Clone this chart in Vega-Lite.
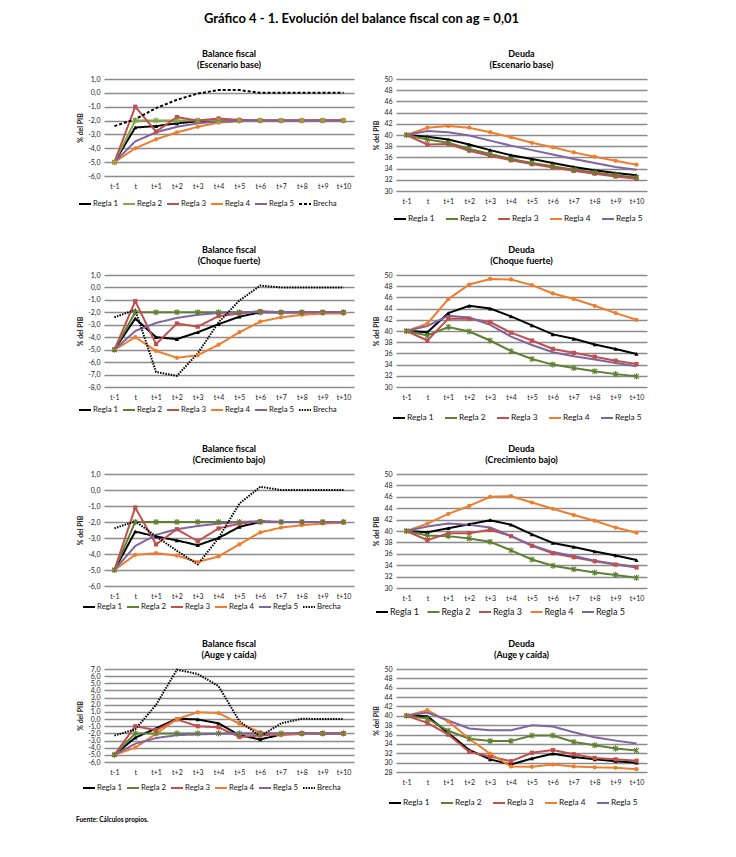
{
"$schema": "https://vega.github.io/schema/vega-lite/v6.json",
"autosize": {"type": "pad"},
"padding": {"left": 76, "top": 12, "right": 5, "bottom": 5},
"background": "white",
"title": {"text": "Gráfico 4 - 1. Evolución del balance fiscal con ag = 0,01", "fontSize": 13, "offset": 24, "anchor": "middle", "frame": "bounds"},
"config": {
 "font": "Lato",
 "view": {"stroke": null},
 "axis": {"labelFont": "Lato", "labelColor": "#222", "labelFontSize": 7, "ticks": false, "domain": false, "gridColor": "#8c8c8c", "gridWidth": 1.5, "titleFontSize": 7, "titleFontWeight": "bold", "titleColor": "#222", "titleFont": "Lato"},
 "axisX": {"grid": false, "labelAngle": 0, "labelPadding": 6, "title": null},
 "axisY": {"grid": true, "labelPadding": 4, "labelOverlap": false},
 "legend": {"orient": "none", "direction": "horizontal", "title": null, "padding": 0, "labelFontSize": 7.8, "labelColor": "#111", "labelOffset": 1, "symbolType": "stroke", "symbolSize": 144, "symbolStrokeWidth": 2.5, "columnPadding": 0, "labelLimit": 0, "labelFont": "Lato"},
 "title": {"fontSize": 9, "fontWeight": "bold", "lineHeight": 11.5, "offset": 5, "color": "#000", "anchor": "middle", "font": "Lato"}
},
"datasets": {
 "bfBase": [
  {"p": "t-1", "Regla 1": -5, "Regla 2": -5, "Regla 3": -5, "Regla 4": -5, "Regla 5": -5, "Brecha": -2.4},
  {"p": "t", "Regla 1": -2.5, "Regla 2": -2.0, "Regla 3": -1.0, "Regla 4": -4.0, "Regla 5": -3.5, "Brecha": -1.9},
  {"p": "t+1", "Regla 1": -2.4, "Regla 2": -2.0, "Regla 3": -2.8, "Regla 4": -3.35, "Regla 5": -2.85, "Brecha": -1.1},
  {"p": "t+2", "Regla 1": -2.2, "Regla 2": -2.0, "Regla 3": -1.75, "Regla 4": -2.85, "Regla 5": -2.45, "Brecha": -0.5},
  {"p": "t+3", "Regla 1": -2.05, "Regla 2": -2.0, "Regla 3": -2.0, "Regla 4": -2.45, "Regla 5": -2.2, "Brecha": -0.05},
  {"p": "t+4", "Regla 1": -2.0, "Regla 2": -2.0, "Regla 3": -1.85, "Regla 4": -2.15, "Regla 5": -2.07, "Brecha": 0.2},
  {"p": "t+5", "Regla 1": -2.0, "Regla 2": -2.0, "Regla 3": -1.95, "Regla 4": -2.05, "Regla 5": -2.02, "Brecha": 0.2},
  {"p": "t+6", "Regla 1": -2.0, "Regla 2": -2.0, "Regla 3": -2.0, "Regla 4": -2.0, "Regla 5": -2.0, "Brecha": 0.0},
  {"p": "t+7", "Regla 1": -2.0, "Regla 2": -2.0, "Regla 3": -2.0, "Regla 4": -2.0, "Regla 5": -2.0, "Brecha": 0.0},
  {"p": "t+8", "Regla 1": -2.0, "Regla 2": -2.0, "Regla 3": -2.0, "Regla 4": -2.0, "Regla 5": -2.0, "Brecha": 0.0},
  {"p": "t+9", "Regla 1": -2.0, "Regla 2": -2.0, "Regla 3": -2.0, "Regla 4": -2.0, "Regla 5": -2.0, "Brecha": 0.0},
  {"p": "t+10", "Regla 1": -2.0, "Regla 2": -2.0, "Regla 3": -2.0, "Regla 4": -2.0, "Regla 5": -2.0, "Brecha": 0.0}
 ],
 "dBase": [
  {"p": "t-1", "Regla 1": 40, "Regla 2": 40, "Regla 3": 40, "Regla 4": 40, "Regla 5": 40},
  {"p": "t", "Regla 1": 39.7, "Regla 2": 39.2, "Regla 3": 38.3, "Regla 4": 41.3, "Regla 5": 40.7},
  {"p": "t+1", "Regla 1": 39.2, "Regla 2": 38.6, "Regla 3": 38.4, "Regla 4": 41.6, "Regla 5": 40.5},
  {"p": "t+2", "Regla 1": 38.3, "Regla 2": 37.5, "Regla 3": 37.2, "Regla 4": 41.3, "Regla 5": 39.9},
  {"p": "t+3", "Regla 1": 37.3, "Regla 2": 36.6, "Regla 3": 36.3, "Regla 4": 40.5, "Regla 5": 39.0},
  {"p": "t+4", "Regla 1": 36.4, "Regla 2": 35.7, "Regla 3": 35.5, "Regla 4": 39.6, "Regla 5": 38.1},
  {"p": "t+5", "Regla 1": 35.7, "Regla 2": 35.0, "Regla 3": 34.8, "Regla 4": 38.6, "Regla 5": 37.3},
  {"p": "t+6", "Regla 1": 35.0, "Regla 2": 34.4, "Regla 3": 34.2, "Regla 4": 37.8, "Regla 5": 36.5},
  {"p": "t+7", "Regla 1": 34.3, "Regla 2": 33.8, "Regla 3": 33.6, "Regla 4": 36.9, "Regla 5": 35.7},
  {"p": "t+8", "Regla 1": 33.7, "Regla 2": 33.3, "Regla 3": 33.1, "Regla 4": 36.1, "Regla 5": 35.0},
  {"p": "t+9", "Regla 1": 33.2, "Regla 2": 32.8, "Regla 3": 32.6, "Regla 4": 35.4, "Regla 5": 34.3},
  {"p": "t+10", "Regla 1": 32.8, "Regla 2": 32.4, "Regla 3": 32.2, "Regla 4": 34.7, "Regla 5": 33.8}
 ],
 "bfChoque": [
  {"p": "t-1", "Regla 1": -5, "Regla 2": -5, "Regla 3": -5, "Regla 4": -5, "Regla 5": -5, "Brecha": -2.4},
  {"p": "t", "Regla 1": -2.5, "Regla 2": -2.0, "Regla 3": -1.1, "Regla 4": -4.0, "Regla 5": -3.5, "Brecha": -1.8},
  {"p": "t+1", "Regla 1": -4.0, "Regla 2": -2.0, "Regla 3": -4.55, "Regla 4": -5.1, "Regla 5": -2.85, "Brecha": -6.8},
  {"p": "t+2", "Regla 1": -4.15, "Regla 2": -2.0, "Regla 3": -2.9, "Regla 4": -5.65, "Regla 5": -2.45, "Brecha": -7.1},
  {"p": "t+3", "Regla 1": -3.6, "Regla 2": -2.0, "Regla 3": -3.15, "Regla 4": -5.45, "Regla 5": -2.2, "Brecha": -5.3},
  {"p": "t+4", "Regla 1": -2.95, "Regla 2": -2.0, "Regla 3": -2.3, "Regla 4": -4.6, "Regla 5": -2.05, "Brecha": -2.8},
  {"p": "t+5", "Regla 1": -2.35, "Regla 2": -2.0, "Regla 3": -2.1, "Regla 4": -3.6, "Regla 5": -2.0, "Brecha": -1.05},
  {"p": "t+6", "Regla 1": -2.0, "Regla 2": -2.0, "Regla 3": -1.9, "Regla 4": -2.75, "Regla 5": -1.95, "Brecha": 0.15},
  {"p": "t+7", "Regla 1": -2.0, "Regla 2": -2.0, "Regla 3": -2.0, "Regla 4": -2.4, "Regla 5": -2.0, "Brecha": 0.0},
  {"p": "t+8", "Regla 1": -2.0, "Regla 2": -2.0, "Regla 3": -2.0, "Regla 4": -2.2, "Regla 5": -2.0, "Brecha": 0.0},
  {"p": "t+9", "Regla 1": -2.0, "Regla 2": -2.0, "Regla 3": -2.0, "Regla 4": -2.1, "Regla 5": -2.0, "Brecha": 0.0},
  {"p": "t+10", "Regla 1": -2.0, "Regla 2": -2.0, "Regla 3": -2.0, "Regla 4": -2.1, "Regla 5": -2.0, "Brecha": 0.0}
 ],
 "dChoque": [
  {"p": "t-1", "Regla 1": 40, "Regla 2": 40, "Regla 3": 40, "Regla 4": 40, "Regla 5": 40},
  {"p": "t", "Regla 1": 39.8, "Regla 2": 39.2, "Regla 3": 38.3, "Regla 4": 41.3, "Regla 5": 40.9},
  {"p": "t+1", "Regla 1": 43.2, "Regla 2": 40.7, "Regla 3": 42.2, "Regla 4": 45.7, "Regla 5": 42.7},
  {"p": "t+2", "Regla 1": 44.5, "Regla 2": 39.9, "Regla 3": 42.2, "Regla 4": 48.3, "Regla 5": 42.4},
  {"p": "t+3", "Regla 1": 44.0, "Regla 2": 38.3, "Regla 3": 41.6, "Regla 4": 49.3, "Regla 5": 41.1},
  {"p": "t+4", "Regla 1": 42.6, "Regla 2": 36.4, "Regla 3": 39.7, "Regla 4": 49.2, "Regla 5": 39.0},
  {"p": "t+5", "Regla 1": 41.0, "Regla 2": 35.0, "Regla 3": 38.3, "Regla 4": 48.2, "Regla 5": 37.5},
  {"p": "t+6", "Regla 1": 39.4, "Regla 2": 34.0, "Regla 3": 36.8, "Regla 4": 46.7, "Regla 5": 36.2},
  {"p": "t+7", "Regla 1": 38.6, "Regla 2": 33.4, "Regla 3": 36.1, "Regla 4": 45.7, "Regla 5": 35.5},
  {"p": "t+8", "Regla 1": 37.6, "Regla 2": 32.8, "Regla 3": 35.4, "Regla 4": 44.5, "Regla 5": 34.9},
  {"p": "t+9", "Regla 1": 36.8, "Regla 2": 32.3, "Regla 3": 34.7, "Regla 4": 43.2, "Regla 5": 34.3},
  {"p": "t+10", "Regla 1": 35.9, "Regla 2": 31.9, "Regla 3": 34.1, "Regla 4": 42.0, "Regla 5": 33.7}
 ],
 "bfBajo": [
  {"p": "t-1", "Regla 1": -5, "Regla 2": -5, "Regla 3": -5, "Regla 4": -5, "Regla 5": -5, "Brecha": -2.4},
  {"p": "t", "Regla 1": -2.6, "Regla 2": -2.0, "Regla 3": -1.1, "Regla 4": -4.05, "Regla 5": -3.5, "Brecha": -1.95},
  {"p": "t+1", "Regla 1": -2.9, "Regla 2": -2.0, "Regla 3": -3.4, "Regla 4": -3.95, "Regla 5": -2.8, "Brecha": -2.9},
  {"p": "t+2", "Regla 1": -3.15, "Regla 2": -2.0, "Regla 3": -2.45, "Regla 4": -4.1, "Regla 5": -2.45, "Brecha": -3.8},
  {"p": "t+3", "Regla 1": -3.45, "Regla 2": -2.0, "Regla 3": -3.2, "Regla 4": -4.5, "Regla 5": -2.25, "Brecha": -4.65},
  {"p": "t+4", "Regla 1": -3.0, "Regla 2": -2.0, "Regla 3": -2.4, "Regla 4": -4.15, "Regla 5": -2.1, "Brecha": -3.0},
  {"p": "t+5", "Regla 1": -2.3, "Regla 2": -2.0, "Regla 3": -2.1, "Regla 4": -3.4, "Regla 5": -2.0, "Brecha": -0.85},
  {"p": "t+6", "Regla 1": -2.0, "Regla 2": -2.0, "Regla 3": -1.95, "Regla 4": -2.65, "Regla 5": -1.95, "Brecha": 0.2},
  {"p": "t+7", "Regla 1": -2.0, "Regla 2": -2.0, "Regla 3": -2.0, "Regla 4": -2.35, "Regla 5": -2.0, "Brecha": 0.0},
  {"p": "t+8", "Regla 1": -2.0, "Regla 2": -2.0, "Regla 3": -2.0, "Regla 4": -2.2, "Regla 5": -2.0, "Brecha": 0.0},
  {"p": "t+9", "Regla 1": -2.0, "Regla 2": -2.0, "Regla 3": -2.0, "Regla 4": -2.1, "Regla 5": -2.0, "Brecha": 0.0},
  {"p": "t+10", "Regla 1": -2.0, "Regla 2": -2.0, "Regla 3": -2.0, "Regla 4": -2.05, "Regla 5": -2.0, "Brecha": 0.0}
 ],
 "dBajo": [
  {"p": "t-1", "Regla 1": 40, "Regla 2": 40, "Regla 3": 40, "Regla 4": 40, "Regla 5": 40},
  {"p": "t", "Regla 1": 39.8, "Regla 2": 39.2, "Regla 3": 38.4, "Regla 4": 41.3, "Regla 5": 40.8},
  {"p": "t+1", "Regla 1": 40.5, "Regla 2": 39.1, "Regla 3": 39.6, "Regla 4": 43.0, "Regla 5": 41.3},
  {"p": "t+2", "Regla 1": 41.2, "Regla 2": 38.7, "Regla 3": 39.6, "Regla 4": 44.4, "Regla 5": 41.1},
  {"p": "t+3", "Regla 1": 41.9, "Regla 2": 38.1, "Regla 3": 40.2, "Regla 4": 46.0, "Regla 5": 40.6},
  {"p": "t+4", "Regla 1": 41.1, "Regla 2": 36.6, "Regla 3": 39.1, "Regla 4": 46.1, "Regla 5": 39.1},
  {"p": "t+5", "Regla 1": 39.4, "Regla 2": 35.0, "Regla 3": 37.4, "Regla 4": 45.0, "Regla 5": 37.5},
  {"p": "t+6", "Regla 1": 37.9, "Regla 2": 33.9, "Regla 3": 36.1, "Regla 4": 43.9, "Regla 5": 36.3},
  {"p": "t+7", "Regla 1": 37.2, "Regla 2": 33.3, "Regla 3": 35.4, "Regla 4": 42.8, "Regla 5": 35.6},
  {"p": "t+8", "Regla 1": 36.4, "Regla 2": 32.7, "Regla 3": 34.7, "Regla 4": 41.8, "Regla 5": 34.8},
  {"p": "t+9", "Regla 1": 35.7, "Regla 2": 32.3, "Regla 3": 34.1, "Regla 4": 40.6, "Regla 5": 34.2},
  {"p": "t+10", "Regla 1": 34.9, "Regla 2": 31.8, "Regla 3": 33.6, "Regla 4": 39.7, "Regla 5": 33.7}
 ],
 "bfAuge": [
  {"p": "t-1", "Regla 1": -5, "Regla 2": -5, "Regla 3": -5, "Regla 4": -5, "Regla 5": -5, "Brecha": -2.3},
  {"p": "t", "Regla 1": -2.6, "Regla 2": -2.0, "Regla 3": -1.0, "Regla 4": -4.0, "Regla 5": -3.45, "Brecha": -1.45},
  {"p": "t+1", "Regla 1": -1.3, "Regla 2": -2.0, "Regla 3": -1.55, "Regla 4": -2.05, "Regla 5": -2.65, "Brecha": 2.0},
  {"p": "t+2", "Regla 1": 0.05, "Regla 2": -2.0, "Regla 3": -0.05, "Regla 4": 0.0, "Regla 5": -2.25, "Brecha": 6.9},
  {"p": "t+3", "Regla 1": -0.05, "Regla 2": -2.0, "Regla 3": -1.0, "Regla 4": 0.95, "Regla 5": -2.15, "Brecha": 6.3},
  {"p": "t+4", "Regla 1": -0.6, "Regla 2": -2.0, "Regla 3": -1.15, "Regla 4": 0.85, "Regla 5": -2.05, "Brecha": 4.6},
  {"p": "t+5", "Regla 1": -2.25, "Regla 2": -2.0, "Regla 3": -2.5, "Regla 4": -0.65, "Regla 5": -2.0, "Brecha": -0.3},
  {"p": "t+6", "Regla 1": -2.85, "Regla 2": -2.0, "Regla 3": -2.3, "Regla 4": -1.85, "Regla 5": -2.0, "Brecha": -2.4},
  {"p": "t+7", "Regla 1": -2.15, "Regla 2": -2.0, "Regla 3": -2.1, "Regla 4": -2.25, "Regla 5": -2.0, "Brecha": -0.6},
  {"p": "t+8", "Regla 1": -2.0, "Regla 2": -2.0, "Regla 3": -2.0, "Regla 4": -2.1, "Regla 5": -2.0, "Brecha": 0.05},
  {"p": "t+9", "Regla 1": -2.0, "Regla 2": -2.0, "Regla 3": -2.0, "Regla 4": -2.0, "Regla 5": -2.0, "Brecha": 0.0},
  {"p": "t+10", "Regla 1": -2.0, "Regla 2": -2.0, "Regla 3": -2.0, "Regla 4": -2.0, "Regla 5": -2.0, "Brecha": 0.0}
 ],
 "dAuge": [
  {"p": "t-1", "Regla 1": 40, "Regla 2": 40, "Regla 3": 40, "Regla 4": 40, "Regla 5": 40},
  {"p": "t", "Regla 1": 39.9, "Regla 2": 39.4, "Regla 3": 38.5, "Regla 4": 41.2, "Regla 5": 40.7},
  {"p": "t+1", "Regla 1": 36.3, "Regla 2": 36.8, "Regla 3": 36.0, "Regla 4": 38.8, "Regla 5": 39.0},
  {"p": "t+2", "Regla 1": 32.7, "Regla 2": 35.1, "Regla 3": 32.3, "Regla 4": 35.1, "Regla 5": 37.3},
  {"p": "t+3", "Regla 1": 30.7, "Regla 2": 34.6, "Regla 3": 31.3, "Regla 4": 31.9, "Regla 5": 36.9},
  {"p": "t+4", "Regla 1": 29.6, "Regla 2": 34.6, "Regla 3": 30.3, "Regla 4": 29.2, "Regla 5": 36.9},
  {"p": "t+5", "Regla 1": 30.9, "Regla 2": 35.8, "Regla 3": 32.1, "Regla 4": 29.1, "Regla 5": 38.0},
  {"p": "t+6", "Regla 1": 31.9, "Regla 2": 35.8, "Regla 3": 32.7, "Regla 4": 29.6, "Regla 5": 37.7},
  {"p": "t+7", "Regla 1": 31.2, "Regla 2": 34.4, "Regla 3": 31.8, "Regla 4": 29.2, "Regla 5": 36.5},
  {"p": "t+8", "Regla 1": 30.7, "Regla 2": 33.7, "Regla 3": 31.0, "Regla 4": 29.0, "Regla 5": 35.4},
  {"p": "t+9", "Regla 1": 30.3, "Regla 2": 33.0, "Regla 3": 30.7, "Regla 4": 28.9, "Regla 5": 34.7},
  {"p": "t+10", "Regla 1": 30.0, "Regla 2": 32.6, "Regla 3": 30.4, "Regla 4": 28.6, "Regla 5": 34.1}
 ]
},
"spacing": 22,
"resolve": {"scale": {"color": "independent", "strokeDash": "independent", "strokeWidth": "independent", "shape": "independent"}},
"vconcat": [
 {
  "spacing": 18,
  "resolve": {"scale": {"color": "independent", "strokeDash": "independent", "strokeWidth": "independent", "shape": "independent"}},
  "hconcat": [
   {
    "width": 250, "height": 97,
    "title": {"text": ["Balance fiscal", "(Escenario base)"]},
    "data": {"name": "bfBase"},
    "transform": [{"fold": ["Regla 1", "Regla 2", "Regla 3", "Regla 4", "Regla 5", "Brecha"], "as": ["serie", "valor"]}],
    "encoding": {
     "x": {"field": "p", "type": "ordinal", "sort": ["t-1", "t", "t+1", "t+2", "t+3", "t+4", "t+5", "t+6", "t+7", "t+8", "t+9", "t+10"], "scale": {"type": "point", "padding": 0.5}, "axis": {"title": null}},
     "y": {"field": "valor", "type": "quantitative", "scale": {"domain": [-6, 1], "nice": false, "zero": false}, "axis": {"title": "% del PIB", "values": [-6, -5, -4, -3, -2, -1, 0, 1], "labelExpr": "replace(replace(format(datum.value, '.1f'), '.', ','), '−', '-')", "minExtent": 18, "maxExtent": 18, "titlePadding": 3}}
    },
    "layer": [
     {"mark": {"type": "line"},
      "encoding": {
       "color": {"field": "serie", "type": "nominal", "scale": {"domain": ["Regla 1", "Regla 2", "Regla 3", "Regla 4", "Regla 5", "Brecha"], "range": ["#000000", "#86A845", "#C0504D", "#EF7D2C", "#8064A2", "#000000"]}, "legend": {"legendX": -26, "legendY": 118}},
       "strokeDash": {"field": "serie", "type": "nominal", "scale": {"domain": ["Regla 1", "Regla 2", "Regla 3", "Regla 4", "Regla 5", "Brecha"], "range": [[1, 0], [1, 0], [1, 0], [1, 0], [1, 0], [3, 2]]}, "legend": {"legendX": -26, "legendY": 118}},
       "strokeWidth": {"field": "serie", "type": "ordinal", "scale": {"domain": ["Regla 1", "Regla 2", "Regla 3", "Regla 4", "Regla 5", "Brecha"], "range": [2, 2, 2, 2, 2.6, 2]}, "legend": null}
      }},
     {"transform": [{"filter": {"field": "serie", "oneOf": ["Regla 1", "Regla 3", "Regla 4"]}}],
      "mark": {"type": "point", "filled": true, "opacity": 1, "size": 18},
      "encoding": {"color": {"field": "serie", "type": "nominal", "legend": null}, "shape": {"field": "serie", "type": "nominal", "scale": {"domain": ["Regla 1", "Regla 3", "Regla 4"], "range": ["triangle-up", "square", "circle"]}, "legend": null}}},
     {"transform": [{"filter": {"field": "serie", "equal": "Regla 2"}}],
      "mark": {"type": "point", "shape": "M-1,-1L1,1M1,-1L-1,1M0,-1.3L0,1.3", "filled": false, "opacity": 1, "size": 22, "strokeWidth": 1.1},
      "encoding": {"color": {"field": "serie", "type": "nominal", "legend": null}}}
    ]
   },
   {
    "width": 251, "height": 112,
    "title": {"text": ["Deuda", "(Escenario base)"]},
    "data": {"name": "dBase"},
    "transform": [{"fold": ["Regla 1", "Regla 2", "Regla 3", "Regla 4", "Regla 5"], "as": ["serie", "valor"]}],
    "encoding": {
     "x": {"field": "p", "type": "ordinal", "sort": ["t-1", "t", "t+1", "t+2", "t+3", "t+4", "t+5", "t+6", "t+7", "t+8", "t+9", "t+10"], "scale": {"type": "point", "padding": 0.5}, "axis": {"title": null}},
     "y": {"field": "valor", "type": "quantitative", "scale": {"domain": [30, 50], "nice": false, "zero": false}, "axis": {"title": "% del PIB", "values": [30, 32, 34, 36, 38, 40, 42, 44, 46, 48, 50], "minExtent": 12, "maxExtent": 12, "titlePadding": 5}}
    },
    "layer": [
     {"mark": {"type": "line"},
      "encoding": {
       "color": {"field": "serie", "type": "nominal", "scale": {"domain": ["Regla 1", "Regla 2", "Regla 3", "Regla 4", "Regla 5"], "range": ["#000000", "#5E8030", "#C0504D", "#EF7D2C", "#8064A2"]}, "legend": {"legendX": -3, "legendY": 133, "labelFontSize": 8.3, "columnPadding": 7}},
       "strokeWidth": {"field": "serie", "type": "ordinal", "scale": {"domain": ["Regla 1", "Regla 2", "Regla 3", "Regla 4", "Regla 5"], "range": [2, 2, 2, 2, 2.6]}, "legend": null}
      }},
     {"transform": [{"filter": {"field": "serie", "oneOf": ["Regla 1", "Regla 3", "Regla 4"]}}],
      "mark": {"type": "point", "filled": true, "opacity": 1, "size": 18},
      "encoding": {"color": {"field": "serie", "type": "nominal", "legend": null}, "shape": {"field": "serie", "type": "nominal", "scale": {"domain": ["Regla 1", "Regla 3", "Regla 4"], "range": ["triangle-up", "square", "circle"]}, "legend": null}}},
     {"transform": [{"filter": {"field": "serie", "equal": "Regla 2"}}],
      "mark": {"type": "point", "shape": "M-1,-1L1,1M1,-1L-1,1M0,-1.3L0,1.3", "filled": false, "opacity": 1, "size": 22, "strokeWidth": 1.1},
      "encoding": {"color": {"field": "serie", "type": "nominal", "legend": null}}}
    ]
   }
  ]
 },
 {
  "spacing": 18,
  "resolve": {"scale": {"color": "independent", "strokeDash": "independent", "strokeWidth": "independent", "shape": "independent"}},
  "hconcat": [
   {
    "width": 250, "height": 112,
    "title": {"text": ["Balance fiscal", "(Choque fuerte)"]},
    "data": {"name": "bfChoque"},
    "transform": [{"fold": ["Regla 1", "Regla 2", "Regla 3", "Regla 4", "Regla 5", "Brecha"], "as": ["serie", "valor"]}],
    "encoding": {
     "x": {"field": "p", "type": "ordinal", "sort": ["t-1", "t", "t+1", "t+2", "t+3", "t+4", "t+5", "t+6", "t+7", "t+8", "t+9", "t+10"], "scale": {"type": "point", "padding": 0.5}, "axis": {"title": null}},
     "y": {"field": "valor", "type": "quantitative", "scale": {"domain": [-8, 1], "nice": false, "zero": false}, "axis": {"title": "% del PIB", "values": [-8, -7, -6, -5, -4, -3, -2, -1, 0, 1], "labelExpr": "replace(replace(format(datum.value, '.1f'), '.', ','), '−', '-')", "minExtent": 18, "maxExtent": 18, "titlePadding": 3}}
    },
    "layer": [
     {"mark": {"type": "line"},
      "encoding": {
       "color": {"field": "serie", "type": "nominal", "scale": {"domain": ["Regla 1", "Regla 2", "Regla 3", "Regla 4", "Regla 5", "Brecha"], "range": ["#000000", "#5E8030", "#C0504D", "#EF7D2C", "#8064A2", "#000000"]}, "legend": {"legendX": -26, "legendY": 128}},
       "strokeDash": {"field": "serie", "type": "nominal", "scale": {"domain": ["Regla 1", "Regla 2", "Regla 3", "Regla 4", "Regla 5", "Brecha"], "range": [[1, 0], [1, 0], [1, 0], [1, 0], [1, 0], [1.5, 1.2]]}, "legend": {"legendX": -26, "legendY": 128}},
       "strokeWidth": {"field": "serie", "type": "ordinal", "scale": {"domain": ["Regla 1", "Regla 2", "Regla 3", "Regla 4", "Regla 5", "Brecha"], "range": [2, 2, 2, 2, 2.6, 1.5]}, "legend": null}
      }},
     {"transform": [{"filter": {"field": "serie", "oneOf": ["Regla 1", "Regla 3", "Regla 4"]}}],
      "mark": {"type": "point", "filled": true, "opacity": 1, "size": 18},
      "encoding": {"color": {"field": "serie", "type": "nominal", "legend": null}, "shape": {"field": "serie", "type": "nominal", "scale": {"domain": ["Regla 1", "Regla 3", "Regla 4"], "range": ["triangle-up", "square", "circle"]}, "legend": null}}},
     {"transform": [{"filter": {"field": "serie", "equal": "Regla 2"}}],
      "mark": {"type": "point", "shape": "M-1,-1L1,1M1,-1L-1,1M0,-1.3L0,1.3", "filled": false, "opacity": 1, "size": 22, "strokeWidth": 1.1},
      "encoding": {"color": {"field": "serie", "type": "nominal", "legend": null}}}
    ]
   },
   {
    "width": 251, "height": 112,
    "title": {"text": ["Deuda", "(Choque fuerte)"]},
    "data": {"name": "dChoque"},
    "transform": [{"fold": ["Regla 1", "Regla 2", "Regla 3", "Regla 4", "Regla 5"], "as": ["serie", "valor"]}],
    "encoding": {
     "x": {"field": "p", "type": "ordinal", "sort": ["t-1", "t", "t+1", "t+2", "t+3", "t+4", "t+5", "t+6", "t+7", "t+8", "t+9", "t+10"], "scale": {"type": "point", "padding": 0.5}, "axis": {"title": null}},
     "y": {"field": "valor", "type": "quantitative", "scale": {"domain": [30, 50], "nice": false, "zero": false}, "axis": {"title": "% del PIB", "values": [30, 32, 34, 36, 38, 40, 42, 44, 46, 48, 50], "minExtent": 12, "maxExtent": 12, "titlePadding": 5}}
    },
    "layer": [
     {"mark": {"type": "line"},
      "encoding": {
       "color": {"field": "serie", "type": "nominal", "scale": {"domain": ["Regla 1", "Regla 2", "Regla 3", "Regla 4", "Regla 5"], "range": ["#000000", "#5E8030", "#C0504D", "#EF7D2C", "#8064A2"]}, "legend": {"legendX": -4, "legendY": 136, "labelFontSize": 8.3, "columnPadding": 7}},
       "strokeWidth": {"field": "serie", "type": "ordinal", "scale": {"domain": ["Regla 1", "Regla 2", "Regla 3", "Regla 4", "Regla 5"], "range": [2, 2, 2, 2, 2.6]}, "legend": null}
      }},
     {"transform": [{"filter": {"field": "serie", "oneOf": ["Regla 1", "Regla 3", "Regla 4"]}}],
      "mark": {"type": "point", "filled": true, "opacity": 1, "size": 18},
      "encoding": {"color": {"field": "serie", "type": "nominal", "legend": null}, "shape": {"field": "serie", "type": "nominal", "scale": {"domain": ["Regla 1", "Regla 3", "Regla 4"], "range": ["triangle-up", "square", "circle"]}, "legend": null}}},
     {"transform": [{"filter": {"field": "serie", "equal": "Regla 2"}}],
      "mark": {"type": "point", "shape": "M-1,-1L1,1M1,-1L-1,1M0,-1.3L0,1.3", "filled": false, "opacity": 1, "size": 22, "strokeWidth": 1.1},
      "encoding": {"color": {"field": "serie", "type": "nominal", "legend": null}}}
    ]
   }
  ]
 },
 {
  "spacing": 18,
  "resolve": {"scale": {"color": "independent", "strokeDash": "independent", "strokeWidth": "independent", "shape": "independent"}},
  "hconcat": [
   {
    "width": 250, "height": 112,
    "title": {"text": ["Balance fiscal", "(Crecimiento bajo)"]},
    "data": {"name": "bfBajo"},
    "transform": [{"fold": ["Regla 1", "Regla 2", "Regla 3", "Regla 4", "Regla 5", "Brecha"], "as": ["serie", "valor"]}],
    "encoding": {
     "x": {"field": "p", "type": "ordinal", "sort": ["t-1", "t", "t+1", "t+2", "t+3", "t+4", "t+5", "t+6", "t+7", "t+8", "t+9", "t+10"], "scale": {"type": "point", "padding": 0.5}, "axis": {"title": null}},
     "y": {"field": "valor", "type": "quantitative", "scale": {"domain": [-6, 1], "nice": false, "zero": false}, "axis": {"title": "% del PIB", "values": [-6, -5, -4, -3, -2, -1, 0, 1], "labelExpr": "replace(replace(format(datum.value, '.1f'), '.', ','), '−', '-')", "minExtent": 18, "maxExtent": 18, "titlePadding": 3}}
    },
    "layer": [
     {"mark": {"type": "line"},
      "encoding": {
       "color": {"field": "serie", "type": "nominal", "scale": {"domain": ["Regla 1", "Regla 2", "Regla 3", "Regla 4", "Regla 5", "Brecha"], "range": ["#000000", "#5E8030", "#C0504D", "#EF7D2C", "#8064A2", "#000000"]}, "legend": {"legendX": -22, "legendY": 126}},
       "strokeDash": {"field": "serie", "type": "nominal", "scale": {"domain": ["Regla 1", "Regla 2", "Regla 3", "Regla 4", "Regla 5", "Brecha"], "range": [[1, 0], [1, 0], [1, 0], [1, 0], [1, 0], [1.5, 1.2]]}, "legend": {"legendX": -22, "legendY": 126}},
       "strokeWidth": {"field": "serie", "type": "ordinal", "scale": {"domain": ["Regla 1", "Regla 2", "Regla 3", "Regla 4", "Regla 5", "Brecha"], "range": [2, 2, 2, 2, 2.6, 1.5]}, "legend": null}
      }},
     {"transform": [{"filter": {"field": "serie", "oneOf": ["Regla 1", "Regla 3", "Regla 4"]}}],
      "mark": {"type": "point", "filled": true, "opacity": 1, "size": 18},
      "encoding": {"color": {"field": "serie", "type": "nominal", "legend": null}, "shape": {"field": "serie", "type": "nominal", "scale": {"domain": ["Regla 1", "Regla 3", "Regla 4"], "range": ["triangle-up", "square", "circle"]}, "legend": null}}},
     {"transform": [{"filter": {"field": "serie", "equal": "Regla 2"}}],
      "mark": {"type": "point", "shape": "M-1,-1L1,1M1,-1L-1,1M0,-1.3L0,1.3", "filled": false, "opacity": 1, "size": 22, "strokeWidth": 1.1},
      "encoding": {"color": {"field": "serie", "type": "nominal", "legend": null}}}
    ]
   },
   {
    "width": 251, "height": 114,
    "title": {"text": ["Deuda", "(Crecimiento bajo)"]},
    "data": {"name": "dBajo"},
    "transform": [{"fold": ["Regla 1", "Regla 2", "Regla 3", "Regla 4", "Regla 5"], "as": ["serie", "valor"]}],
    "encoding": {
     "x": {"field": "p", "type": "ordinal", "sort": ["t-1", "t", "t+1", "t+2", "t+3", "t+4", "t+5", "t+6", "t+7", "t+8", "t+9", "t+10"], "scale": {"type": "point", "padding": 0.5}, "axis": {"title": null}},
     "y": {"field": "valor", "type": "quantitative", "scale": {"domain": [30, 50], "nice": false, "zero": false}, "axis": {"title": "% del PIB", "values": [30, 32, 34, 36, 38, 40, 42, 44, 46, 48, 50], "minExtent": 12, "maxExtent": 12, "titlePadding": 5}}
    },
    "layer": [
     {"mark": {"type": "line"},
      "encoding": {
       "color": {"field": "serie", "type": "nominal", "scale": {"domain": ["Regla 1", "Regla 2", "Regla 3", "Regla 4", "Regla 5"], "range": ["#000000", "#5E8030", "#C0504D", "#EF7D2C", "#8064A2"]}, "legend": {"legendX": -21, "legendY": 131, "labelFontSize": 9, "columnPadding": 4.5}},
       "strokeWidth": {"field": "serie", "type": "ordinal", "scale": {"domain": ["Regla 1", "Regla 2", "Regla 3", "Regla 4", "Regla 5"], "range": [2, 2, 2, 2, 2.6]}, "legend": null}
      }},
     {"transform": [{"filter": {"field": "serie", "oneOf": ["Regla 1", "Regla 3", "Regla 4"]}}],
      "mark": {"type": "point", "filled": true, "opacity": 1, "size": 18},
      "encoding": {"color": {"field": "serie", "type": "nominal", "legend": null}, "shape": {"field": "serie", "type": "nominal", "scale": {"domain": ["Regla 1", "Regla 3", "Regla 4"], "range": ["triangle-up", "square", "circle"]}, "legend": null}}},
     {"transform": [{"filter": {"field": "serie", "equal": "Regla 2"}}],
      "mark": {"type": "point", "shape": "M-1,-1L1,1M1,-1L-1,1M0,-1.3L0,1.3", "filled": false, "opacity": 1, "size": 22, "strokeWidth": 1.1},
      "encoding": {"color": {"field": "serie", "type": "nominal", "legend": null}}}
    ]
   }
  ]
 },
 {
  "spacing": 18,
  "title": {"text": "Fuente: Cálculos propios.", "orient": "bottom", "anchor": "start", "fontSize": 6.5, "offset": 10},
  "resolve": {"scale": {"color": "independent", "strokeDash": "independent", "strokeWidth": "independent", "shape": "independent"}},
  "hconcat": [
   {
    "width": 250, "height": 93,
    "title": {"text": ["Balance fiscal", "(Auge y caída)"]},
    "data": {"name": "bfAuge"},
    "transform": [{"fold": ["Regla 1", "Regla 2", "Regla 3", "Regla 4", "Regla 5", "Brecha"], "as": ["serie", "valor"]}],
    "encoding": {
     "x": {"field": "p", "type": "ordinal", "sort": ["t-1", "t", "t+1", "t+2", "t+3", "t+4", "t+5", "t+6", "t+7", "t+8", "t+9", "t+10"], "scale": {"type": "point", "padding": 0.5}, "axis": {"title": null}},
     "y": {"field": "valor", "type": "quantitative", "scale": {"domain": [-6, 7], "nice": false, "zero": false}, "axis": {"title": "% del PIB", "values": [-6, -5, -4, -3, -2, -1, 0, 1, 2, 3, 4, 5, 6, 7], "labelExpr": "replace(replace(format(datum.value, '.1f'), '.', ','), '−', '-')", "minExtent": 18, "maxExtent": 18, "titlePadding": 3}}
    },
    "layer": [
     {"mark": {"type": "line"},
      "encoding": {
       "color": {"field": "serie", "type": "nominal", "scale": {"domain": ["Regla 1", "Regla 2", "Regla 3", "Regla 4", "Regla 5", "Brecha"], "range": ["#000000", "#5E8030", "#C0504D", "#EF7D2C", "#8064A2", "#000000"]}, "legend": {"legendX": -22, "legendY": 112}},
       "strokeDash": {"field": "serie", "type": "nominal", "scale": {"domain": ["Regla 1", "Regla 2", "Regla 3", "Regla 4", "Regla 5", "Brecha"], "range": [[1, 0], [1, 0], [1, 0], [1, 0], [1, 0], [1.5, 1.2]]}, "legend": {"legendX": -22, "legendY": 112}},
       "strokeWidth": {"field": "serie", "type": "ordinal", "scale": {"domain": ["Regla 1", "Regla 2", "Regla 3", "Regla 4", "Regla 5", "Brecha"], "range": [2, 2, 2, 2, 2.6, 1.5]}, "legend": null}
      }},
     {"transform": [{"filter": {"field": "serie", "oneOf": ["Regla 1", "Regla 3", "Regla 4"]}}],
      "mark": {"type": "point", "filled": true, "opacity": 1, "size": 18},
      "encoding": {"color": {"field": "serie", "type": "nominal", "legend": null}, "shape": {"field": "serie", "type": "nominal", "scale": {"domain": ["Regla 1", "Regla 3", "Regla 4"], "range": ["triangle-up", "square", "circle"]}, "legend": null}}},
     {"transform": [{"filter": {"field": "serie", "equal": "Regla 2"}}],
      "mark": {"type": "point", "shape": "M-1,-1L1,1M1,-1L-1,1M0,-1.3L0,1.3", "filled": false, "opacity": 1, "size": 22, "strokeWidth": 1.1},
      "encoding": {"color": {"field": "serie", "type": "nominal", "legend": null}}}
    ]
   },
   {
    "width": 251, "height": 103,
    "title": {"text": ["Deuda", "(Auge y caída)"]},
    "data": {"name": "dAuge"},
    "transform": [{"fold": ["Regla 1", "Regla 2", "Regla 3", "Regla 4", "Regla 5"], "as": ["serie", "valor"]}],
    "encoding": {
     "x": {"field": "p", "type": "ordinal", "sort": ["t-1", "t", "t+1", "t+2", "t+3", "t+4", "t+5", "t+6", "t+7", "t+8", "t+9", "t+10"], "scale": {"type": "point", "padding": 0.5}, "axis": {"title": null}},
     "y": {"field": "valor", "type": "quantitative", "scale": {"domain": [28, 50], "nice": false, "zero": false}, "axis": {"title": "% del PIB", "values": [28, 30, 32, 34, 36, 38, 40, 42, 44, 46, 48, 50], "minExtent": 12, "maxExtent": 12, "titlePadding": 5}}
    },
    "layer": [
     {"mark": {"type": "line"},
      "encoding": {
       "color": {"field": "serie", "type": "nominal", "scale": {"domain": ["Regla 1", "Regla 2", "Regla 3", "Regla 4", "Regla 5"], "range": ["#000000", "#5E8030", "#C0504D", "#EF7D2C", "#8064A2"]}, "legend": {"legendX": -8, "legendY": 127, "labelFontSize": 8.3, "columnPadding": 7}},
       "strokeWidth": {"field": "serie", "type": "ordinal", "scale": {"domain": ["Regla 1", "Regla 2", "Regla 3", "Regla 4", "Regla 5"], "range": [2, 2, 2, 2, 2.6]}, "legend": null}
      }},
     {"transform": [{"filter": {"field": "serie", "oneOf": ["Regla 1", "Regla 3", "Regla 4"]}}],
      "mark": {"type": "point", "filled": true, "opacity": 1, "size": 18},
      "encoding": {"color": {"field": "serie", "type": "nominal", "legend": null}, "shape": {"field": "serie", "type": "nominal", "scale": {"domain": ["Regla 1", "Regla 3", "Regla 4"], "range": ["triangle-up", "square", "circle"]}, "legend": null}}},
     {"transform": [{"filter": {"field": "serie", "equal": "Regla 2"}}],
      "mark": {"type": "point", "shape": "M-1,-1L1,1M1,-1L-1,1M0,-1.3L0,1.3", "filled": false, "opacity": 1, "size": 22, "strokeWidth": 1.1},
      "encoding": {"color": {"field": "serie", "type": "nominal", "legend": null}}}
    ]
   }
  ]
 }
]
}
